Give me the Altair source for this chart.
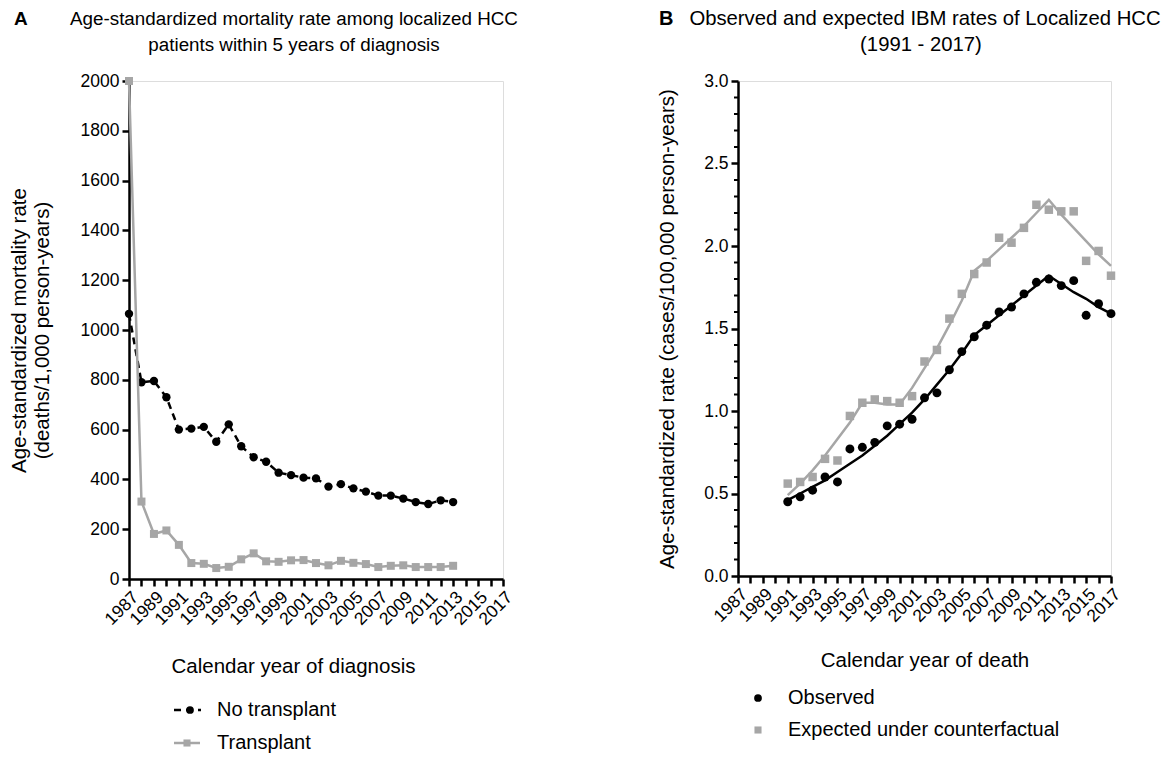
import altair as alt
import pandas as pd

FONT = "Liberation Sans"
GREY = "#a6a6a6"

# ---------------- Panel A data ----------------
years_a = list(range(1987, 2014))
no_transplant = [1065, 790, 795, 730, 600, 604, 611, 551, 621, 533, 489, 471, 427, 417,
                 407, 404, 371, 381, 364, 351, 335, 335, 323, 309, 301, 316, 309]
transplant = [2000, 311, 181, 195, 137, 64, 61, 44, 49, 79, 103, 71, 69, 75,
              76, 64, 55, 73, 65, 60, 48, 53, 55, 48, 48, 48, 53]

# ---------------- Panel B data ----------------
years_b = list(range(1991, 2018))
observed = [0.45, 0.48, 0.52, 0.60, 0.57, 0.77, 0.78, 0.81, 0.91, 0.92, 0.95, 1.08, 1.11, 1.25,
            1.36, 1.45, 1.52, 1.60, 1.63, 1.71, 1.78, 1.80, 1.76, 1.79, 1.58, 1.65, 1.59]
expected = [0.56, 0.57, 0.60, 0.71, 0.70, 0.97, 1.05, 1.07, 1.06, 1.05, 1.09, 1.30, 1.37, 1.56,
            1.71, 1.83, 1.90, 2.05, 2.02, 2.11, 2.25, 2.22, 2.21, 2.21, 1.91, 1.97, 1.82]
observed_fit = [0.46, 0.50, 0.54, 0.58, 0.63, 0.68, 0.73, 0.79, 0.85, 0.92, 0.99, 1.07, 1.16, 1.25,
                1.35, 1.46, 1.52, 1.58, 1.64, 1.70, 1.76, 1.82, 1.77, 1.72, 1.68, 1.63, 1.59]
expected_fit = [0.49, 0.56, 0.64, 0.73, 0.83, 0.93, 1.05, 1.05, 1.04, 1.04, 1.14, 1.26, 1.38, 1.52,
                1.67, 1.85, 1.91, 1.98, 2.05, 2.12, 2.20, 2.28, 2.19, 2.11, 2.03, 1.95, 1.88]

# axis ticks / labels
year_ticks = list(range(1987, 2018))
ticks_a_y = [0, 200, 400, 600, 800, 1000, 1200, 1400, 1600, 1800, 2000]
ticks_b_y = [0.0, 0.5, 1.0, 1.5, 2.0, 2.5, 3.0]
minor_b_y = [0.1, 0.2, 0.3, 0.4, 0.6, 0.7, 0.8, 0.9, 1.1, 1.2, 1.3, 1.4, 1.6, 1.7, 1.8, 1.9,
             2.1, 2.2, 2.3, 2.4, 2.6, 2.7, 2.8, 2.9]

title_a = ["Age-standardized mortality rate among localized HCC",
           "patients within 5 years of diagnosis"]
title_b = ["Observed and expected IBM rates of Localized HCC", "(1991 - 2017)"]
ytitle_a = ["Age-standardized mortality rate", "(deaths/1,000 person-years)"]
ytitle_b = "Age-standardized rate (cases/100,000 person-years)"
xtitle_a = "Calendar year of diagnosis"
xtitle_b = "Calendar year of death"
legend_a = ["No transplant", "Transplant"]
legend_b = ["Observed", "Expected under counterfactual"]

WA, HA = 374, 498
WB, HB = 373, 495

TICK_FS = 17.5
TITLE_FS = 20.5


def x_enc(title, tx, ty):
    return alt.X(
        "year:Q",
        scale=alt.Scale(domain=[1987, 2017], nice=False, zero=False),
        axis=alt.Axis(
            values=year_ticks, format="d",
            labelExpr="datum.value % 2 == 1 ? datum.label : ''",
            labelAngle=-45, labelAlign="right", labelBaseline="top",
            labelFont=FONT, labelFontSize=TICK_FS, labelColor="black", labelPadding=2,
            labelOverlap=False, labelFlush=False, labelBound=False,
            domainColor="black", domainWidth=2.5, tickColor="black", tickWidth=2.5, tickSize=7,
            grid=False, title=title, titleFont=FONT, titleFontSize=TITLE_FS,
            titleFontWeight="normal", titleColor="black",
            titleX=tx, titleY=ty, titleAlign="center", titleBaseline="middle",
        ),
    )


def y_enc(field, domain, values, fmt, title, tx, ty):
    return alt.Y(
        field,
        scale=alt.Scale(domain=domain, nice=False, zero=True),
        axis=alt.Axis(
            values=values, format=fmt,
            labelFont=FONT, labelFontSize=TICK_FS, labelColor="black", labelPadding=3,
            labelOverlap=False, labelFlush=False, labelBound=False,
            domainColor="black", domainWidth=2.5, tickColor="black", tickWidth=2.5, tickSize=7,
            grid=False, title=title, titleFont=FONT, titleFontSize=TITLE_FS,
            titleFontWeight="normal", titleColor="black", titleAngle=-90,
            titleX=tx, titleY=ty, titleAlign="center", titleBaseline="middle",
            titleLineHeight=23,
        ),
    )


def text_layer(s, x, y, size, weight="normal", align="center"):
    return alt.Chart(pd.DataFrame({"t": [s]})).mark_text(
        align=align, baseline="middle", font=FONT, fontSize=size,
        fontWeight=weight, color="black"
    ).encode(x=alt.value(x), y=alt.value(y), text="t:N")


def one_row():
    return alt.Chart(pd.DataFrame({"k": [0]}))


# ---------------- Panel A ----------------
df_a = pd.DataFrame({"year": years_a, "no_tx": no_transplant, "tx": transplant})
xa = x_enc(xtitle_a, 164, 87)


def ya(field):
    return y_enc(field, [0, 2000], ticks_a_y, "d", ytitle_a, -110, HA / 2)


base_a = alt.Chart(df_a)
a_line_no = base_a.mark_line(color="black", strokeWidth=2.5, strokeDash=[7, 5]).encode(x=xa, y=ya("no_tx:Q"))
a_pt_no = base_a.mark_point(shape="circle", filled=True, size=70, color="black", opacity=1).encode(x=xa, y=ya("no_tx:Q"))
a_line_tx = base_a.mark_line(color=GREY, strokeWidth=2.5).encode(x=xa, y=ya("tx:Q"))
a_pt_tx = base_a.mark_point(shape="square", filled=True, size=64, color=GREY, opacity=1).encode(x=xa, y=ya("tx:Q"))

LA1, LA2 = 629, 662
a_leg = [
    one_row().mark_rule(color="black", strokeWidth=2.5, strokeDash=[7, 5]).encode(
        x=alt.value(45), x2=alt.value(72), y=alt.value(LA1)),
    one_row().mark_point(shape="circle", filled=True, size=60, color="black", opacity=1).encode(
        x=alt.value(61), y=alt.value(LA1)),
    text_layer(legend_a[0], 88, LA1, 20, align="left"),
    one_row().mark_rule(color=GREY, strokeWidth=2.5).encode(
        x=alt.value(45), x2=alt.value(71), y=alt.value(LA2)),
    one_row().mark_point(shape="square", filled=True, size=50, color=GREY, opacity=1).encode(
        x=alt.value(58), y=alt.value(LA2)),
    text_layer(legend_a[1], 88, LA2, 20, align="left"),
]
a_titles = [
    text_layer("A", -115, -62, 19, weight="bold", align="left"),
    text_layer(title_a[0], 165, -62, 18.8),
    text_layer(title_a[1], 165, -36, 18.8),
]

panel_a = alt.layer(a_line_no, a_pt_no, a_line_tx, a_pt_tx, *a_leg, *a_titles).properties(width=WA, height=HA)

# ---------------- Panel B ----------------
df_b = pd.DataFrame({"year": years_b, "obs": observed, "exp": expected,
                     "obs_fit": observed_fit, "exp_fit": expected_fit})
df_minor = pd.DataFrame({"v": minor_b_y})
xb = x_enc(xtitle_b, WB / 2, 84)


def yb(field):
    return y_enc(field, [0, 3], ticks_b_y, ".1f", ytitle_b, -71, HB / 2)


base_b = alt.Chart(df_b)
b_fit_exp = base_b.mark_line(color=GREY, strokeWidth=2.5).encode(x=xb, y=yb("exp_fit:Q"))
b_pt_exp = base_b.mark_point(shape="square", filled=True, size=72, color=GREY, opacity=1).encode(x=xb, y=yb("exp:Q"))
b_fit_obs = base_b.mark_line(color="black", strokeWidth=2.5).encode(x=xb, y=yb("obs_fit:Q"))
b_pt_obs = base_b.mark_point(shape="circle", filled=True, size=80, color="black", opacity=1).encode(x=xb, y=yb("obs:Q"))
b_minor = alt.Chart(df_minor).mark_rule(color="black", strokeWidth=2).encode(
    y=yb("v:Q"), x=alt.value(-4), x2=alt.value(0))

LB1, LB2 = 617, 649
b_leg = [
    one_row().mark_point(shape="circle", filled=True, size=60, color="black", opacity=1).encode(
        x=alt.value(20), y=alt.value(LB1)),
    text_layer(legend_b[0], 50, LB1, 20, align="left"),
    one_row().mark_point(shape="square", filled=True, size=50, color=GREY, opacity=1).encode(
        x=alt.value(20), y=alt.value(LB2)),
    text_layer(legend_b[1], 50, LB2, 20, align="left"),
]
b_titles = [
    text_layer("B", -79, -62, 20, weight="bold", align="left"),
    text_layer(title_b[0], 187, -62, 20.3),
    text_layer(title_b[1], 183, -36, 20.3),
]

panel_b = alt.layer(b_minor, b_fit_exp, b_pt_exp, b_fit_obs, b_pt_obs, *b_leg, *b_titles).properties(width=WB, height=HB)

chart = alt.hconcat(panel_a, panel_b, spacing=137).properties(
    padding={"left": 0, "top": 0, "right": 0, "bottom": 0}
).configure_view(stroke=None).configure(font=FONT)

chart.save("out.html", embed_options={"renderer": "svg", "actions": False})
